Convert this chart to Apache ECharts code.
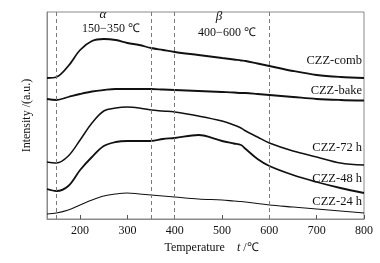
<!DOCTYPE html>
<html>
<head>
<meta charset="utf-8">
<script src="https://cdn.jsdelivr.net/npm/echarts@6/dist/echarts.min.js"></script>
<style>
  * { margin: 0; padding: 0; }
  #chart-container { width: 380px; height: 263px; background: #fff; }
</style>
</head>
<body>
<div id="chart-container"></div>
<script>
  // temperature (℃) sample points shared by all curves
  var temps = [130, 150, 175, 200, 225, 250, 275, 300, 325, 350, 375, 400, 450, 500, 525, 540, 550, 575, 600, 650, 700, 750, 800]
  // intensity in arbitrary units, stacked traces
  var czzComb = [141, 142, 153, 169, 178, 180, 179, 176, 174, 171, 169, 167, 164, 161, 159.5, 158.5, 158, 155.5, 153, 148, 144, 142, 141]
  var czzBake = [120, 119, 122, 125, 127.5, 129, 130, 130, 130, 130, 129.5, 129, 128, 127, 126.5, 126, 126, 125, 124, 122, 120, 119, 118.5]
  var czz72 = [57, 56, 63, 79, 96, 108, 111, 112, 111, 109, 108, 107, 103, 98, 94, 91, 88, 82, 76, 68, 62, 56, 54]
  var czz48 = [30, 28, 33, 49, 62, 73, 77, 78, 78, 78, 80, 81, 84, 78, 75.5, 74, 70, 60, 53, 44, 37, 31, 26]
  var czz24 = [5, 6, 9, 14, 19, 23, 25, 26, 25, 24, 23, 22, 20, 19, 18, 17.5, 17, 15.5, 14, 12, 10, 8, 6]
  var seriesNames = ['CZZ-comb', 'CZZ-bake', 'CZZ-72 h', 'CZZ-48 h', 'CZZ-24 h']
  var tickValues = [200, 300, 400, 500, 600, 700, 800]
  var regionBounds = [150, 350, 400, 600]

  var serif = '"Liberation Serif", "Times New Roman", serif'

  function pairs(ys) {
    return temps.map(function (t, i) { return [t, ys[i]] })
  }

  var chart = echarts.init(document.getElementById('chart-container'), null, { renderer: 'canvas' })

  function makeSeries(name, ys, width, labelDy) {
    return {
      name: name,
      type: 'line',
      data: pairs(ys),
      smooth: 0.35,
      showSymbol: false,
      lineStyle: { color: '#111', width: width },
      endLabel: {
        show: true,
        formatter: '{a}',
        distance: 0,
        align: 'right',
        verticalAlign: 'middle',
        offset: [-2, labelDy],
        color: '#111',
        fontFamily: serif,
        fontSize: 12.5,
      },
    }
  }

  var series = [
    makeSeries(seriesNames[0], czzComb, 1.8, -17),
    makeSeries(seriesNames[1], czzBake, 1.8, -10),
    makeSeries(seriesNames[2], czz72, 1.5, -17),
    makeSeries(seriesNames[3], czz48, 1.8, -14),
    makeSeries(seriesNames[4], czz24, 1.1, -11),
  ]
  series[0].markLine = {
    silent: true,
    symbol: 'none',
    label: { show: false },
    lineStyle: { color: '#7a7a7a', type: [4, 3], width: 1 },
    data: regionBounds.map(function (v) { return { xAxis: v } }),
  }

  var option = {
    animation: false,
    grid: { left: 47, right: 16, top: 12, bottom: 44, show: true, borderColor: '#8a8a8a', borderWidth: 1 },
    xAxis: {
      type: 'value',
      min: 130,
      max: 800,
      name: '{a|Temperature}    {i|t} /℃',
      nameLocation: 'middle',
      nameGap: 22,
      nameTextStyle: {
        color: '#111',
        fontFamily: serif,
        fontSize: 12,
        padding: [0, 0, 0, 12],
        rich: {
          a: { fontFamily: serif, fontSize: 12, color: '#111' },
          i: { fontFamily: serif, fontSize: 12, fontStyle: 'italic', color: '#111' },
        },
      },
      axisLine: { lineStyle: { color: '#8a8a8a', width: 1 } },
      axisTick: { inside: true, length: 4, lineStyle: { color: '#555' }, customValues: tickValues },
      axisLabel: { customValues: tickValues, color: '#111', fontFamily: serif, fontSize: 12, margin: 6 },
      splitLine: { show: false },
    },
    yAxis: {
      type: 'value',
      min: 0,
      max: 207,
      name: 'Intensity /(a.u.)',
      nameLocation: 'middle',
      nameGap: 14,
      nameTextStyle: { color: '#111', fontFamily: serif, fontSize: 12 },
      axisLine: { show: true, lineStyle: { color: '#8a8a8a', width: 1 } },
      axisTick: { show: false },
      axisLabel: { show: false },
      splitLine: { show: false },
    },
    graphic: [
      { type: 'text', x: 103, y: 15, style: { text: 'α', font: 'italic 13px ' + serif, fill: '#111', align: 'center', verticalAlign: 'middle' } },
      { type: 'text', x: 111, y: 29, style: { text: '150−350 ℃', font: '12px ' + serif, fill: '#111', align: 'center', verticalAlign: 'middle' } },
      { type: 'text', x: 219, y: 17, style: { text: 'β', font: 'italic 13px ' + serif, fill: '#111', align: 'center', verticalAlign: 'middle' } },
      { type: 'text', x: 227, y: 33, style: { text: '400−600 ℃', font: '12px ' + serif, fill: '#111', align: 'center', verticalAlign: 'middle' } },
    ],
    series: series,
  }
  chart.setOption(option)
  window.addEventListener('resize', chart.resize)
</script>
</body>
</html>
